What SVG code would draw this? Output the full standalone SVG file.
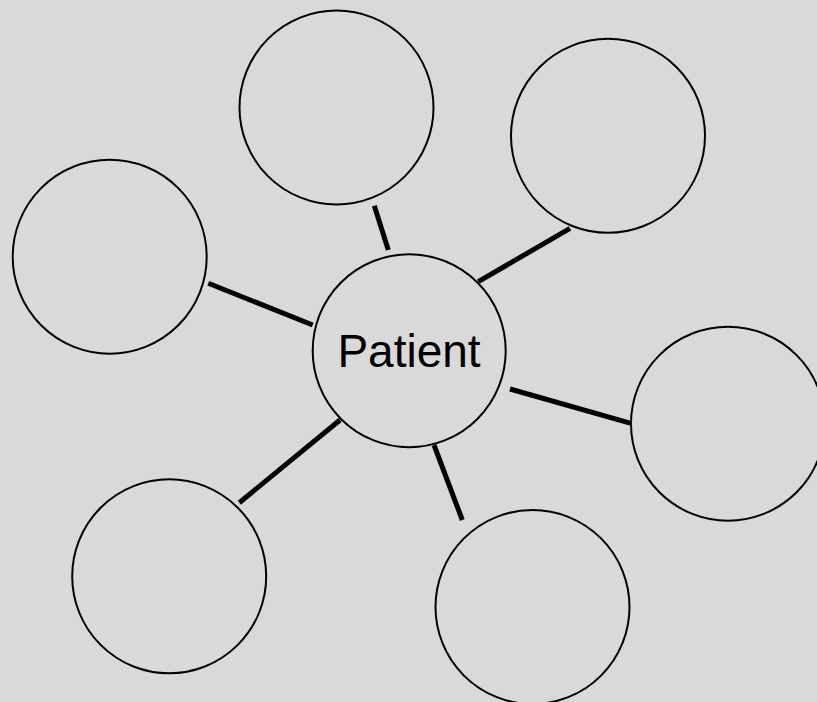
<svg xmlns="http://www.w3.org/2000/svg" width="817" height="702" viewBox="0 0 817 702">
<style>
.node{fill:#d9d9d9;stroke:#000;stroke-width:2}
.conn{stroke:#000;stroke-width:5;fill:none}
.label{font-family:"Liberation Sans",Arial,sans-serif;font-size:46px;fill:#000;text-anchor:middle}
</style>
<rect x="0" y="0" width="817" height="702" fill="#d9d9d9"/>
<g id="connectors">
<line class="conn" x1="374.3" y1="205.7" x2="388.3" y2="250"/>
<line class="conn" x1="570" y1="228.3" x2="478.3" y2="281.7"/>
<line class="conn" x1="208.3" y1="283.3" x2="312.7" y2="325"/>
<line class="conn" x1="510" y1="389" x2="631" y2="423.3"/>
<line class="conn" x1="239.3" y1="502.7" x2="340" y2="420"/>
<line class="conn" x1="434" y1="445" x2="462.3" y2="520"/>
</g>
<g id="patient">
<circle class="node" cx="409.2" cy="350.7" r="96.5"/>
<text class="label" x="409" y="366.5">Patient</text>
</g>
<g id="node-top"><circle class="node" cx="336.5" cy="107.5" r="97"/></g>
<g id="node-top-right"><circle class="node" cx="608" cy="135.8" r="97"/></g>
<g id="node-left"><circle class="node" cx="109.7" cy="256.7" r="97"/></g>
<g id="node-right"><circle class="node" cx="728" cy="423.7" r="97"/></g>
<g id="node-bottom-left"><circle class="node" cx="169.2" cy="576.3" r="97"/></g>
<g id="node-bottom"><circle class="node" cx="532.5" cy="607" r="97"/></g>
</svg>
